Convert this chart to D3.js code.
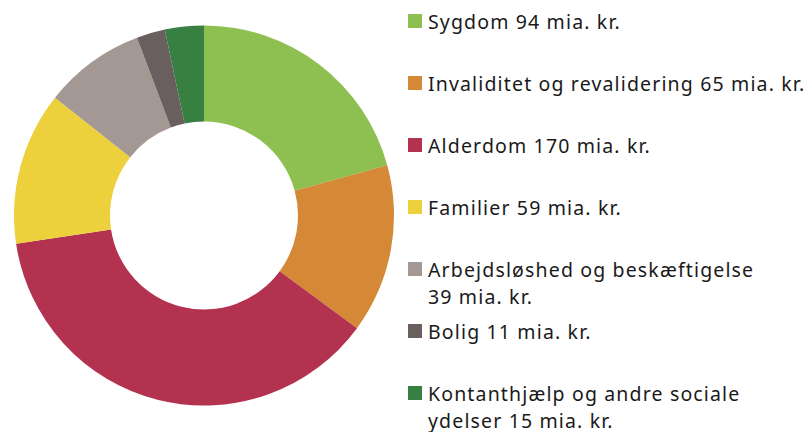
<!DOCTYPE html>
<html>
<head>
<meta charset="utf-8">
<script src="https://cdn.jsdelivr.net/npm/d3@7"></script>
<style>
  body { margin: 0; background: #fff; }
  text { font-family: "Noto Sans", sans-serif; fill: #1a1a1a; }
</style>
</head>
<body>
<div class="container"></div>
<script>
// data
var categories = ['Sygdom', 'Invaliditet og revalidering', 'Alderdom', 'Familier',
  'Arbejdsløshed og beskæftigelse', 'Bolig', 'Kontanthjælp og andre sociale ydelser'];
var values = [94, 65, 170, 59, 39, 11, 15];
var legendLines = [
  ['Sygdom 94 mia. kr.'],
  ['Invaliditet og revalidering 65 mia. kr.'],
  ['Alderdom 170 mia. kr.'],
  ['Familier 59 mia. kr.'],
  ['Arbejdsløshed og beskæftigelse', '39 mia. kr.'],
  ['Bolig 11 mia. kr.'],
  ['Kontanthjælp og andre sociale', 'ydelser 15 mia. kr.']
];
var colors = ['#8dc051', '#d58836', '#b33250', '#ecd13d', '#a39894', '#6a5f5f', '#387f42'];

var width = 809, height = 432;

var svg = d3.select('.container')
  .append('svg')
  .attr('width', width)
  .attr('height', height);

var color = d3.scaleOrdinal().domain(categories).range(colors);

var pie = d3.pie().sort(null).value(function (d) { return d.value; });
var arc = d3.arc().innerRadius(94).outerRadius(190);

var data = categories.map(function (c, i) {
  return { name: c, value: values[i], lines: legendLines[i] };
});

var g = svg.append('g').attr('transform', 'translate(204,215.5)');

g.selectAll('path.slice')
  .data(pie(data))
  .enter()
  .append('path')
  .attr('class', 'slice')
  .attr('d', arc)
  .attr('fill', function (d) { return color(d.data.name); });

// legend
var ly = d3.scalePoint().domain(categories).range([21, 393]);

var item = svg.selectAll('g.legend')
  .data(data)
  .enter()
  .append('g')
  .attr('class', 'legend')
  .attr('transform', function (d) { return 'translate(408,' + ly(d.name) + ')'; });

item.append('rect')
  .attr('x', 0)
  .attr('y', -7)
  .attr('width', 14)
  .attr('height', 14)
  .attr('fill', function (d) { return color(d.name); });

item.append('text')
  .attr('x', 20)
  .attr('y', 7.5)
  .style('font-size', '19.5px')
  .style('letter-spacing', '1.15px')
  .selectAll('tspan')
  .data(function (d) { return d.lines; })
  .enter()
  .append('tspan')
  .attr('x', 20)
  .attr('dy', function (d, i) { return i ? 27 : 0; })
  .text(function (d) { return d; });
</script>
</body>
</html>
